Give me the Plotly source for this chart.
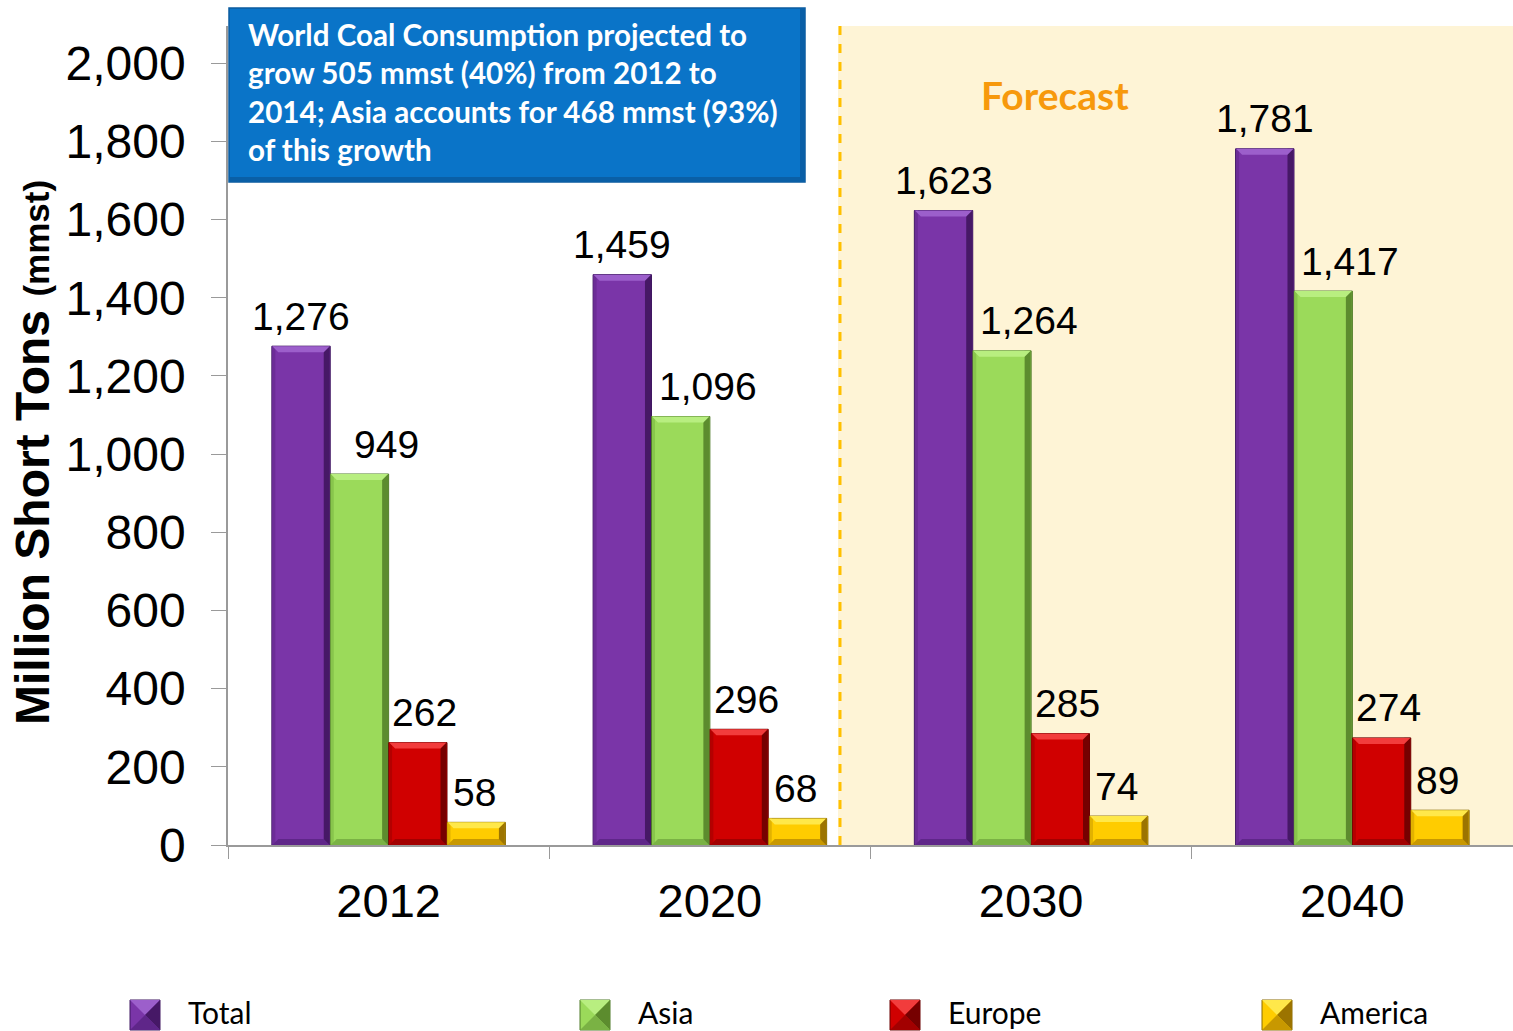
import plotly.graph_objects as go

# Coal consumption (million short tons) by region
years = ["2012", "2020", "2030", "2040"]
series_names = ["Total", "Asia", "Europe", "America"]
total = [1276, 1459, 1623, 1781]
asia = [949, 1096, 1264, 1417]
europe = [262, 296, 285, 274]
america = [58, 68, 74, 89]
y_ticks = [0, 200, 400, 600, 800, 1000, 1200, 1400, 1600, 1800, 2000]

fills = ["#7A35A8", "#9BDA5A", "#D00000", "#FFCC00"]
edges = ["#3E1660", "#4F7A28", "#6A0000", "#8A6A00"]
# bevel tones per series: top face, right face, left face, bottom face
bevels = [
    ("#9C5FCB", "#461866", "#6C2D97", "#5F2689"),
    ("#B8EE80", "#5C8C2E", "#88C54C", "#7AB244"),
    ("#F23C3C", "#760000", "#B40000", "#A20000"),
    ("#FFE84A", "#9C7400", "#E2B200", "#C89800"),
]
# small horizontal nudges for the value labels of each series (px)
label_nudge = [0, 27, 7, -2]

W, H = 1513, 1031
L, R, T, B = 228, 0, 26, 186
pw, ph = W - L - R, H - T - B
BARGAP = 0.273
BEVEL = 6


def px_x(x):
    return (x - L) / pw


def px_y(y):
    return (H - B - y) / ph


fig = go.Figure()
series = [total, asia, europe, america]
for name, vals, fc, ec in zip(series_names, series, fills, edges):
    fig.add_trace(go.Bar(
        x=years, y=vals, name=name,
        marker=dict(color=fc, line=dict(color=ec, width=1)),
        showlegend=False, hovertemplate="%{x}: %{y:,}<extra>" + name + "</extra>",
    ))

shapes = [
    # forecast region
    dict(type="rect", xref="paper", yref="paper", x0=px_x(838), x1=1, y0=0, y1=1,
         fillcolor="#FEF4D6", line=dict(width=0), layer="below"),
    dict(type="line", xref="paper", yref="paper", x0=px_x(840), x1=px_x(840), y0=0, y1=1,
         line=dict(color="#FFC000", width=3, dash="dash"), layer="above"),
    # headline box with a darker lower/right edge
    dict(type="rect", xref="paper", yref="paper", x0=px_x(229), x1=px_x(805),
         y0=px_y(182), y1=px_y(8), fillcolor="#0A74C8",
         line=dict(color="#0B5B9E", width=1.5), layer="above"),
    dict(type="rect", xref="paper", yref="paper", x0=px_x(229), x1=px_x(805),
         y0=px_y(182), y1=px_y(177), fillcolor="#0A5FA6", line=dict(width=0), layer="above"),
    dict(type="rect", xref="paper", yref="paper", x0=px_x(800), x1=px_x(805),
         y0=px_y(182), y1=px_y(8), fillcolor="#0A5FA6", line=dict(width=0), layer="above"),
]

# bevelled faces on every bar, anchored to the bar's category slot and value
group_px = pw / len(years)
bar_px = group_px * (1 - BARGAP) / len(series)
bar_cat = (1 - BARGAP) / len(series)
hw = bar_px / 2 - 0.5
d = BEVEL
for i, (vals, (c_top, c_right, c_left, c_bot)) in enumerate(zip(series, bevels)):
    for j, v in enumerate(vals):
        xc = j + (i - 1.5) * bar_cat
        common = dict(xref="x", yref="y", xsizemode="pixel", xanchor=xc,
                      line=dict(width=0), layer="above")
        shapes.append(dict(type="rect", **common, x0=hw - d, x1=hw, y0=0, y1=v,
                           fillcolor=c_right))
        shapes.append(dict(type="rect", **common, x0=-hw, x1=-hw + 3, y0=0, y1=v,
                           fillcolor=c_left))
        shapes.append(dict(type="path", **common, ysizemode="pixel", yanchor=v,
                           path=f"M{-hw},0 L{hw},0 L{hw - d},{-d} L{-hw + d},{-d} Z",
                           fillcolor=c_top))
        shapes.append(dict(type="path", **common, ysizemode="pixel", yanchor=0,
                           path=f"M{-hw},0 L{hw},0 L{hw - d},{d} L{-hw + d},{d} Z",
                           fillcolor=c_bot))

annotations = [
    dict(xref="paper", yref="paper", x=px_x(246), y=px_y(15), xanchor="left", yanchor="top",
         align="left", showarrow=False,
         text="<b>World Coal Consumption projected to<br>grow 505 mmst (40%) from 2012 to<br>"
              "2014; Asia accounts for 468 mmst (93%)<br>of this growth</b>",
         font=dict(family="Lato", size=29.6, color="#FFFFFF")),
    dict(xref="paper", yref="paper", x=px_x(1055), y=px_y(95), xanchor="center", yanchor="middle",
         showarrow=False, text="<b>Forecast</b>",
         font=dict(family="Lato", size=39, color="#F7990C")),
    dict(xref="paper", yref="paper", x=px_x(33), y=px_y(453), xanchor="center", yanchor="middle",
         showarrow=False, textangle=-90,
         text="<b>Million Short Tons <span style='font-size:35px'>(mmst)</span></b>",
         font=dict(family="Arial, Liberation Sans", size=48, color="#000000")),
]

# value labels above each bar: category index on the x axis plus a per-bar pixel offset
for i, (vals, nudge) in enumerate(zip(series, label_nudge)):
    for j, v in enumerate(vals):
        annotations.append(dict(
            xref="x", yref="y", x=j, y=v, xanchor="center", yanchor="middle",
            xshift=(i - 1.5) * bar_px + nudge, yshift=30, showarrow=False,
            text=f"{v:,}", font=dict(family="Arial, Liberation Sans", size=39, color="#000000")))

# legend swatches (pyramid-style bevel) and labels
legend_x = [130, 580, 890, 1262]
for name, fc, ec, (c_top, c_right, c_left, c_bot), lx in zip(series_names, fills, edges,
                                                               bevels, legend_x):
    sw = dict(xref="paper", yref="paper", xsizemode="pixel", ysizemode="pixel",
              xanchor=px_x(lx + 15), yanchor=px_y(1015), layer="above")
    shapes.append(dict(type="rect", **sw, x0=-15, x1=15, y0=-15, y1=15, fillcolor=fc,
                       line=dict(color=ec, width=1)))
    shapes.append(dict(type="path", **sw, path="M-15,15 L15,15 L0,0 Z", fillcolor=c_top,
                       line=dict(width=0)))
    shapes.append(dict(type="path", **sw, path="M15,15 L15,-15 L0,0 Z", fillcolor=c_right,
                       line=dict(width=0)))
    shapes.append(dict(type="path", **sw, path="M-15,-15 L15,-15 L0,0 Z", fillcolor=c_bot,
                       line=dict(width=0)))
    annotations.append(dict(xref="paper", yref="paper", x=px_x(lx + 56), y=px_y(1012),
                            xanchor="left", yanchor="middle", showarrow=False, text=name,
                            font=dict(family="Lato", size=30, color="#000000")))

fig.update_layout(
    width=W, height=H,
    margin=dict(l=L, r=R, t=T, b=B, pad=0),
    paper_bgcolor="#FFFFFF", plot_bgcolor="rgba(0,0,0,0)",
    barmode="group", bargap=BARGAP, bargroupgap=0,
    shapes=shapes, annotations=annotations,
    xaxis=dict(type="category", range=[-0.5, 3.5], showgrid=False, showline=True,
               linecolor="#9A9A9A", linewidth=1.5,
               ticks="outside", tickson="boundaries", ticklen=12, tickcolor="#9A9A9A",
               tickfont=dict(family="Arial, Liberation Sans", size=47, color="#000000"),
               ticklabelstandoff=14, tickangle=0),
    yaxis=dict(range=[0, 2095], tickvals=y_ticks, ticktext=[f"{v:,}" for v in y_ticks],
               showgrid=False, zeroline=False, showline=True, linecolor="#9A9A9A", linewidth=1.5,
               ticks="outside", ticklen=15, tickcolor="#9A9A9A",
               tickfont=dict(family="Arial, Liberation Sans", size=48, color="#000000"),
               ticklabelstandoff=16),
)

fig.write_html("out.html", config={"displayModeBar": False})
